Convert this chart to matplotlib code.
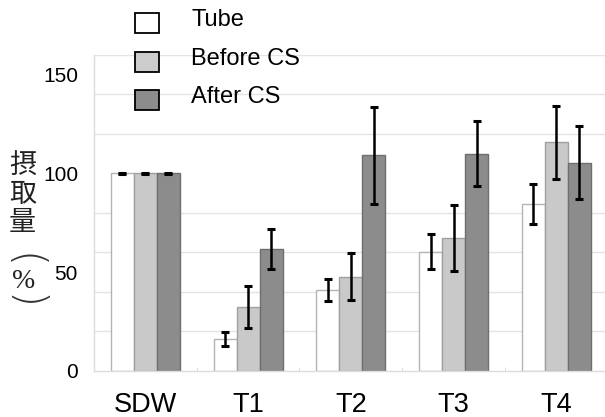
import matplotlib
matplotlib.use("Agg")
import matplotlib.pyplot as plt
import numpy as np
from matplotlib.patches import Rectangle
from matplotlib.ticker import FixedLocator

categories = ["SDW", "T1", "T2", "T3", "T4"]
series_names = ["Tube", "Before CS", "After CS"]
tube = [100, 16.1, 40.9, 60.3, 84.6]
tube_err = [0.4, 3.4, 5.7, 8.9, 10.0]
before = [100, 32.1, 47.6, 67.1, 115.7]
before_err = [0.4, 10.7, 11.8, 16.8, 18.5]
after = [100, 61.7, 109.1, 109.9, 105.4]
after_err = [0.4, 10.0, 24.7, 16.5, 18.4]

values = [tube, before, after]
errors = [tube_err, before_err, after_err]
face = ["#ffffff", "#c9c9c9", "#8c8c8c"]
edge = ["#b4b4b4", "#a0a0a0", "#6e6e6e"]
legend_face = ["#ffffff", "#cccccc", "#8c8c8c"]

W, H = 605, 417
fig = plt.figure(figsize=(W / 100, H / 100), dpi=100)
ax = fig.add_axes([94 / W, 1 - 370.7 / H, (605 - 94) / W, (370.7 - 55) / H])

x = np.arange(len(categories))
bw = 0.224
for i in range(3):
    ax.bar(x + (i - 1) * bw, values[i], width=bw, color=face[i], edgecolor=edge[i],
           linewidth=1.0, zorder=2)
    ax.errorbar(x + (i - 1) * bw, values[i], yerr=errors[i], fmt="none", ecolor="black",
                elinewidth=1.8, capsize=2.8, capthick=2.2, zorder=3)

ax.set_xlim(-0.5, 4.474)
ax.set_ylim(0, 160)
ax.set_yticks([0, 50, 100, 150])
ax.set_yticklabels(["0", "50", "100", "150"], fontsize=15, family="Liberation Sans")
ax.yaxis.set_minor_locator(FixedLocator(list(range(20, 161, 20))))
ax.grid(which="minor", axis="y", color="#e4e4e4", linewidth=1.0, zorder=0)
ax.set_axisbelow(True)
ax.tick_params(axis="y", which="both", length=0, pad=11.5)
ax.set_xticks(x)
ax.set_xticklabels(categories, fontsize=19.5, family="Liberation Sans")
ax.xaxis.set_minor_locator(FixedLocator([0.5, 1.5, 2.5, 3.5]))
ax.tick_params(axis="x", which="major", length=0, pad=15)
ax.tick_params(axis="x", which="minor", length=3, direction="in", color="#d8d8d8")
for s in ["top", "right"]:
    ax.spines[s].set_visible(False)
for s in ["left", "bottom"]:
    ax.spines[s].set_color("#dcdcdc")
    ax.spines[s].set_linewidth(1.0)

# legend (manual)
rows_y = [23.3, 61.7, 100.0]
for name, fc, yy in zip(series_names, legend_face, rows_y):
    fig.add_artist(Rectangle((135 / W, 1 - (yy + 10) / H), 24 / W, 20 / H,
                             transform=fig.transFigure, facecolor=fc,
                             edgecolor="black", linewidth=1.3))
    fig.text(191 / W, 1 - (yy - 3) / H, name, fontsize=17, family="Liberation Sans",
             ha="left", va="center", color="black")

# vertical y label
cjk = ["Noto Sans CJK JP", "DejaVu Sans"]
for ch, yy in zip(["摂", "取", "量"], [166.7, 195.0, 223.0]):
    fig.text(22.7 / W, 1 - yy / H, ch, fontsize=19.5, family=cjk, ha="center", va="center",
             color="#222222")
fig.text(23.5 / W, 1 - 261 / H, "(", fontsize=30, family="DejaVu Sans",
         rotation=-90, ha="center", va="center", color="#333333", fontweight="light")
fig.text(23.3 / W, 1 - 281.7 / H, "%", fontsize=20, family="Liberation Serif",
         ha="center", va="center", color="#222222")
fig.text(23.5 / W, 1 - 302 / H, ")", fontsize=30, family="DejaVu Sans",
         rotation=-90, ha="center", va="center", color="#333333", fontweight="light")

fig.savefig("out.png", dpi=100)
